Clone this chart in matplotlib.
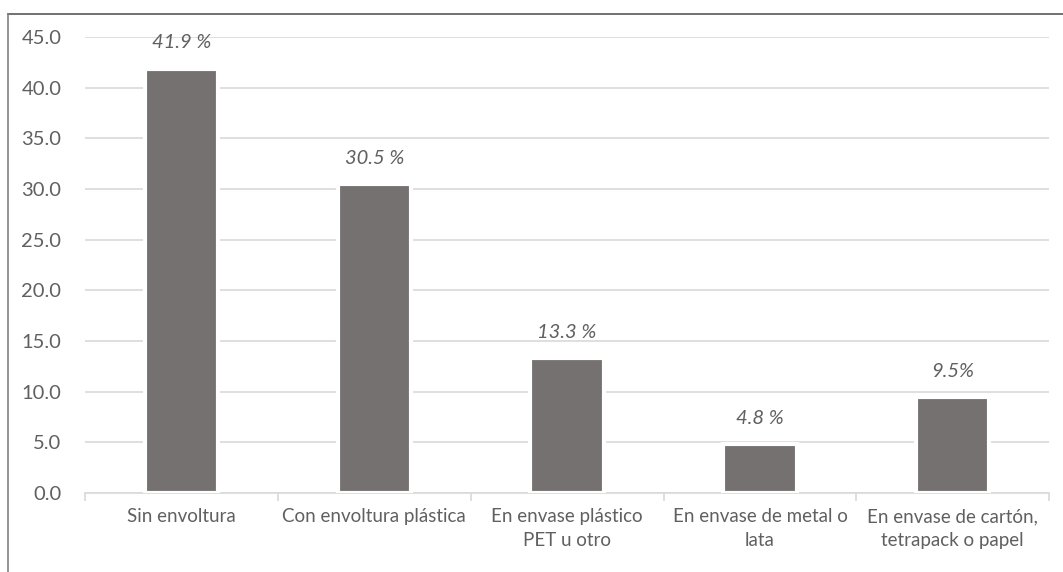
import matplotlib.pyplot as plt
from matplotlib.lines import Line2D

# Packaging types and share of responses (%)
categories = ['Sin envoltura', 'Con envoltura plástica', 'En envase plástico\nPET u otro',
              'En envase de metal o\nlata', 'En envase de cartón,\ntetrapack o papel']
values = [41.9, 30.5, 13.3, 4.8, 9.5]
value_labels = ['41.9 %', '30.5 %', '13.3 %', '4.8 %', '9.5%']
y_ticks = [0, 5, 10, 15, 20, 25, 30, 35, 40, 45]

plt.rcParams['font.family'] = ['Lato', 'DejaVu Sans']
text_color = '#606060'

fig = plt.figure(figsize=(10.63, 5.72), dpi=100)
ax = fig.add_axes([0.080, 0.138, 0.907, 0.797])

x = range(len(categories))
bars = ax.bar(x, values, width=0.38, color='#767171', edgecolor='white', linewidth=3, zorder=3)

for bar, lab in zip(bars, value_labels):
    ax.annotate(lab, (bar.get_x() + bar.get_width() / 2, bar.get_height()),
                xytext=(0, 18.5), textcoords='offset points', ha='center', va='center',
                fontsize=14.5, fontstyle='italic', color=text_color)

ax.set_xlim(-0.5, len(categories) - 0.5)
ax.set_ylim(0, 45)
ax.set_yticks(y_ticks)
ax.set_yticklabels([f'{t:.1f}' for t in y_ticks])
ax.yaxis.grid(True, color='#d9d9d9', linewidth=1.2, zorder=0)
ax.set_axisbelow(True)

# category labels centred, tick marks on the category boundaries
ax.set_xticks(list(x))
ax.set_xticklabels(categories, fontsize=13.5, color=text_color, linespacing=1.45)
ax.tick_params(axis='x', length=0, pad=11)
ax.set_xticks([i - 0.5 for i in range(len(categories) + 1)], minor=True)
ax.tick_params(axis='x', which='minor', length=6, color='#d9d9d9', width=1.2)
ax.tick_params(axis='y', length=0, labelsize=14.5, labelcolor=text_color, pad=17)

for side in ['top', 'right', 'left']:
    ax.spines[side].set_visible(False)
ax.spines['bottom'].set_color('#d9d9d9')
ax.spines['bottom'].set_linewidth(1.2)

# outer frame: top and left edges only
fig.add_artist(Line2D([0.0075, 1.0], [0.9755, 0.9755], color='#595959', linewidth=1.2))
fig.add_artist(Line2D([0.0075, 0.0075], [0.0, 0.9755], color='#808080', linewidth=1.2))

fig.savefig('out.png', dpi=100)
